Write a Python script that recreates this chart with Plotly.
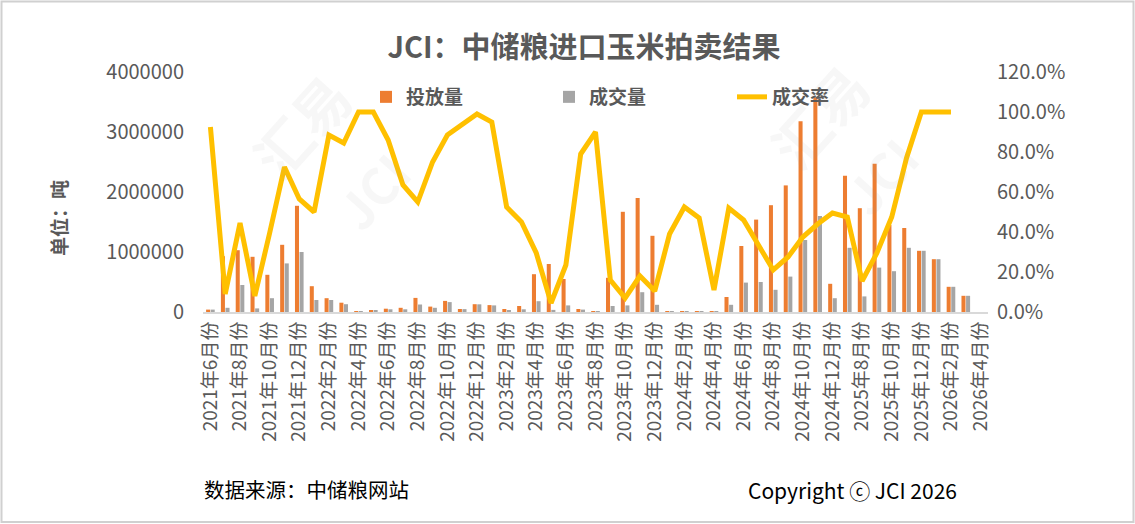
import plotly.graph_objects as go

# ---------------- data ----------------
categories = [
    "2021年6月份", "2021年7月份", "2021年8月份", "2021年9月份", "2021年10月份", "2021年11月份", "2021年12月份",
    "2022年1月份", "2022年2月份", "2022年3月份", "2022年4月份", "2022年5月份", "2022年6月份", "2022年7月份",
    "2022年8月份", "2022年9月份", "2022年10月份", "2022年11月份", "2022年12月份",
    "2023年1月份", "2023年2月份", "2023年3月份", "2023年4月份", "2023年5月份", "2023年6月份", "2023年7月份",
    "2023年8月份", "2023年9月份", "2023年10月份", "2023年11月份", "2023年12月份",
    "2024年1月份", "2024年2月份", "2024年3月份", "2024年4月份", "2024年5月份", "2024年6月份", "2024年7月份",
    "2024年8月份", "2024年9月份", "2024年10月份", "2024年11月份", "2024年12月份",
    "2025年7月份", "2025年8月份", "2025年9月份", "2025年10月份", "2025年11月份", "2025年12月份",
    "2026年1月份", "2026年2月份", "2026年3月份", "2026年4月份",
]

supply = [  # 投放量 (吨)
    40000, 930000, 1030000, 920000, 620000, 1120000, 1770000,
    430000, 230000, 155000, 5000, 20000, 55000, 70000,
    235000, 90000, 185000, 50000, 130000,
    115000, 50000, 100000, 630000, 800000, 550000, 50000,
    5000, 570000, 1670000, 1900000, 1270000,
    5000, 12000, 12000, 15000, 250000, 1100000, 1540000,
    1780000, 2110000, 3180000, 3580000, 470000,
    2270000, 1730000, 2470000, 1450000, 1400000, 1020000,
    880000, 420000, 270000, None,
]

deal = [  # 成交量 (吨)
    40000, 70000, 450000, 60000, 230000, 810000, 1000000,
    200000, 200000, 130000, 5000, 20000, 45000, 45000,
    125000, 70000, 165000, 48000, 128000,
    110000, 25000, 45000, 180000, 35000, 110000, 40000,
    4500, 100000, 110000, 330000, 120000,
    2000, 6000, 5600, 1700, 120000, 490000, 500000,
    370000, 590000, 1200000, 1600000, 230000,
    1070000, 260000, 740000, 680000, 1070000, 1020000,
    880000, 420000, 270000, None,
]

rate = [  # 成交率
    0.925, 0.09, 0.445, 0.08, 0.395, 0.725, 0.565,
    0.50, 0.885, 0.845, 1.0, 1.0, 0.86, 0.635,
    0.55, 0.75, 0.885, 0.94, 0.99,
    0.95, 0.525, 0.45, 0.295, 0.045, 0.235, 0.79,
    0.90, 0.16, 0.07, 0.18, 0.105,
    0.39, 0.525, 0.47, 0.11, 0.52, 0.46, 0.335,
    0.21, 0.275, 0.375, 0.44, 0.495,
    0.475, 0.155, 0.295, 0.475, 0.77, 1.0,
    1.0, 1.0, None, None,
]

left_ticks = [0, 1000000, 2000000, 3000000, 4000000]
right_ticks = [0, 0.2, 0.4, 0.6, 0.8, 1.0, 1.2]
x_ticks = categories[::2]

# ---------------- layout constants ----------------
W, H = 1135, 524
ML, MR, MT, MB = 203, 147, 72, 212
PW, PH = W - ML - MR, H - MT - MB
FONT = "Noto Sans CJK SC"
GREY = "#595959"


def px_x(x):
    return (x - ML) / PW


def px_y(y):
    return (H - MB - y) / PH


fig = go.Figure()
fig.add_trace(go.Bar(x=categories, y=supply, name="投放量", marker_color="#ED7D31",
                     marker_line_width=0))
fig.add_trace(go.Bar(x=categories, y=deal, name="成交量", marker_color="#A5A5A5",
                     marker_line_width=0))
fig.add_trace(go.Scatter(x=categories, y=rate, name="成交率", mode="lines", yaxis="y2",
                         line=dict(color="#FFC000", width=5), connectgaps=False))

fig.update_layout(
    width=W, height=H,
    margin=dict(l=ML, r=MR, t=MT, b=MB, autoexpand=False),
    paper_bgcolor="white", plot_bgcolor="white",
    font=dict(family=FONT, color=GREY),
    barmode="group", bargap=0.38, bargroupgap=0.12,
    title=dict(text="<b>JCI：中储粮进口玉米拍卖结果</b>", x=584 / W, xref="container",
               xanchor="center",
               y=1 - 48 / H, yanchor="middle", font=dict(size=29, color=GREY, family=FONT)),
    showlegend=True,
    legend=dict(orientation="h", x=px_x(366), xanchor="left", y=px_y(97), yanchor="middle",
                font=dict(size=19, color=GREY, family=FONT, weight="bold"),
                entrywidth=138, entrywidthmode="pixels", bgcolor="rgba(0,0,0,0)",
                traceorder="normal"),
    xaxis=dict(type="category", categoryorder="array", categoryarray=categories,
               tickmode="array", tickvals=x_ticks, ticktext=x_ticks, tickangle=-90,
               tickfont=dict(size=19, color=GREY, family=FONT),
               showgrid=False, zeroline=False, showline=True, linecolor="#D9D9D9", linewidth=2,
               ticks="", range=[-0.5, len(categories) - 0.5]),
    yaxis=dict(range=[0, 4000000], tickmode="array", tickvals=left_ticks, tickformat="d",
               showgrid=False, zeroline=False, showline=False, ticks="",
               tickfont=dict(size=20, color=GREY, family=FONT), ticklabelstandoff=18),
    yaxis2=dict(range=[0, 1.2], overlaying="y", side="right", tickmode="array",
                tickvals=right_ticks, tickformat=".1%", showgrid=False, zeroline=False,
                showline=False, ticks="", tickfont=dict(size=20, color=GREY, family=FONT),
                ticklabelstandoff=8),
)

# left axis unit label
fig.add_annotation(text="<b>单位：吨</b>", xref="paper", yref="paper",
                   x=px_x(58), y=px_y(218), xanchor="center", yanchor="middle", textangle=-90,
                   showarrow=False, font=dict(size=19, color=GREY, family=FONT))

# faint watermarks
for wx, wy, txt, sz in [(300, 125, "汇易", 56), (372, 190, "JCI", 50),
                        (818, 115, "汇易", 56), (880, 175, "JCI", 50)]:
    fig.add_annotation(text="<b>" + txt + "</b>", xref="paper", yref="paper",
                       x=px_x(wx), y=px_y(wy), xanchor="center", yanchor="middle",
                       textangle=-48, showarrow=False,
                       font=dict(size=sz, color="rgba(150,150,150,0.08)", family=FONT))

# footer texts
fig.add_annotation(text="数据来源：中储粮网站", xref="paper", yref="paper",
                   x=px_x(202), y=px_y(489), xanchor="left", yanchor="middle", showarrow=False,
                   font=dict(size=20.5, color="#000000", family=FONT))
fig.add_annotation(text="Copyright ⓒ JCI 2026", xref="paper", yref="paper",
                   x=px_x(959), y=px_y(490), xanchor="right", yanchor="middle", showarrow=False,
                   font=dict(size=21, color="#000000", family=FONT))

# outer border
fig.add_shape(type="rect", xref="paper", yref="paper",
              x0=px_x(1.5), x1=px_x(W - 1.5), y0=px_y(H - 2), y1=px_y(1.5),
              line=dict(color="#D0D0D0", width=2), fillcolor="rgba(0,0,0,0)", layer="below")

fig.write_html("out.html", config={"displayModeBar": False},
               post_script="document.body.style.margin='0px';")
